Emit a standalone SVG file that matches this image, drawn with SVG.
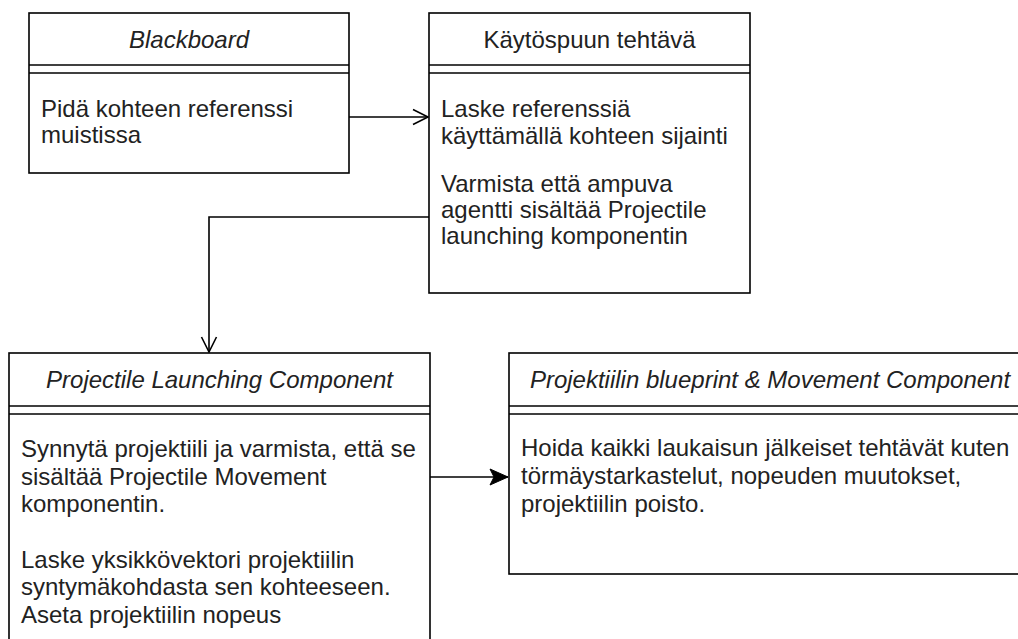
<svg xmlns="http://www.w3.org/2000/svg" width="1018" height="639" viewBox="0 0 1018 639">
<style>
.box{fill:#fff;stroke:#000;stroke-width:1.6}
.ln{stroke:#000;stroke-width:1.6;fill:none}
.t{font-family:"Liberation Sans",Arial,sans-serif;font-size:24px;fill:#222}
.h{text-anchor:middle}
.i{font-style:italic}
.edge{stroke:#000;stroke-width:1.6;fill:none}
</style>
<defs>
<marker id="open" markerUnits="userSpaceOnUse" markerWidth="20" markerHeight="20" viewBox="-16 -10 20 20" refX="0" refY="0" orient="auto">
<path d="M-15,-7.5 L0,0 L-15,7.5" fill="none" stroke="#000" stroke-width="1.6"/>
</marker>
<marker id="block" markerUnits="userSpaceOnUse" markerWidth="22" markerHeight="22" viewBox="-20 -10 22 20" refX="0" refY="0" orient="auto">
<path d="M0,0 L-18,-8 L-14,0 L-18,8 Z" fill="#000" stroke="#000" stroke-width="1"/>
</marker>
</defs>
<g id="connectors">
<path class="edge" d="M349,117 L428,117" marker-end="url(#open)"/>
<path class="edge" d="M429,217 L209,217 L209,352" marker-end="url(#open)"/>
<path class="edge" d="M430,477 L508,477" marker-end="url(#block)"/>
</g>
<g id="blackboard">
<rect class="box" x="29" y="13" width="320" height="160"/>
<line class="ln" x1="29" y1="65" x2="349" y2="65"/>
<line class="ln" x1="29" y1="73" x2="349" y2="73"/>
<text class="t h i" x="189" y="48">Blackboard</text>
<text class="t" x="41" y="117">Pidä kohteen referenssi</text>
<text class="t" x="41" y="143">muistissa</text>
</g>
<g id="kaytospuu">
<rect class="box" x="429" y="13" width="321" height="280"/>
<line class="ln" x1="429" y1="65" x2="750" y2="65"/>
<line class="ln" x1="429" y1="73" x2="750" y2="73"/>
<text class="t h" x="589.5" y="48">Käytöspuun tehtävä</text>
<text class="t" x="441" y="117">Laske referenssiä</text>
<text class="t" x="441" y="144">käyttämällä kohteen sijainti</text>
<text class="t" x="441" y="192">Varmista että ampuva</text>
<text class="t" x="441" y="218">agentti sisältää Projectile</text>
<text class="t" x="441" y="244">launching komponentin</text>
</g>
<g id="launching">
<rect class="box" x="9" y="353" width="421" height="310"/>
<line class="ln" x1="9" y1="406" x2="430" y2="406"/>
<line class="ln" x1="9" y1="414" x2="430" y2="414"/>
<text class="t h i" x="219.5" y="388">Projectile Launching Component</text>
<text class="t" x="21" y="457">Synnytä projektiili ja varmista, että se</text>
<text class="t" x="21" y="484.5">sisältää Projectile Movement</text>
<text class="t" x="21" y="512">komponentin.</text>
<text class="t" x="21" y="567.5">Laske yksikkövektori projektiilin</text>
<text class="t" x="21" y="595">syntymäkohdasta sen kohteeseen.</text>
<text class="t" x="21" y="622.5">Aseta projektiilin nopeus</text>
</g>
<g id="movement">
<rect class="box" x="509" y="353" width="522" height="221"/>
<line class="ln" x1="509" y1="406" x2="1031" y2="406"/>
<line class="ln" x1="509" y1="414" x2="1031" y2="414"/>
<text class="t h i" x="770" y="388">Projektiilin blueprint &amp; Movement Component</text>
<text class="t" x="521" y="456">Hoida kaikki laukaisun jälkeiset tehtävät kuten</text>
<text class="t" x="521" y="484">törmäystarkastelut, nopeuden muutokset,</text>
<text class="t" x="521" y="512">projektiilin poisto.</text>
</g>
</svg>
